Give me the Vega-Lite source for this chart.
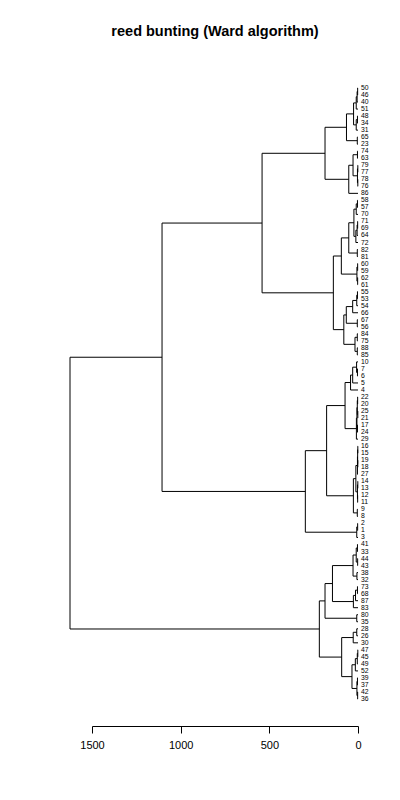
{
  "$schema": "https://vega.github.io/schema/vega-lite/v6.json",
  "width": 266,
  "height": 611,
  "autosize": {"type": "none"},
  "padding": {"left": 92, "top": 88, "right": 42, "bottom": 101},
  "background": "white",
  "title": {"text": "reed bunting (Ward algorithm)", "font": "Liberation Sans", "fontSize": 14.5, "fontWeight": "bold", "color": "black", "anchor": "middle", "dx": -10, "offset": 46},
  "config": {
    "view": {"stroke": null},
    "axis": {"domainColor": "black", "tickColor": "black", "labelColor": "black", "labelFont": "Liberation Sans", "labelFontSize": 11, "tickSize": 7, "grid": false, "labelPadding": 6, "domainWidth": 1, "tickWidth": 1, "labelFlush": false, "labelOverlap": false}
  },
  "datasets": {
    "merges": [
      {"h": 2, "y1": 1, "h1": 0, "y2": 2, "h2": 0},
      {"h": 5, "y1": 1.5, "h1": 2, "y2": 3, "h2": 0},
      {"h": 10, "y1": 2.25, "h1": 5, "y2": 4, "h2": 0},
      {"h": 3, "y1": 5, "h1": 0, "y2": 6, "h2": 0},
      {"h": 10, "y1": 5.5, "h1": 3, "y2": 7, "h2": 0},
      {"h": 25, "y1": 3.125, "h1": 10, "y2": 6.25, "h2": 10},
      {"h": 4, "y1": 8, "h1": 0, "y2": 9, "h2": 0},
      {"h": 65, "y1": 4.6875, "h1": 25, "y2": 8.5, "h2": 4},
      {"h": 3, "y1": 10, "h1": 0, "y2": 11, "h2": 0},
      {"h": 1, "y1": 12, "h1": 0, "y2": 13, "h2": 0},
      {"h": 1, "y1": 14, "h1": 0, "y2": 15, "h2": 0},
      {"h": 3, "y1": 12.5, "h1": 1, "y2": 14.5, "h2": 1},
      {"h": 28, "y1": 10.5, "h1": 3, "y2": 13.5, "h2": 3},
      {"h": 52, "y1": 12, "h1": 28, "y2": 16, "h2": 0},
      {"h": 186, "y1": 6.59375, "h1": 65, "y2": 14, "h2": 52},
      {"h": 3, "y1": 17, "h1": 0, "y2": 18, "h2": 0},
      {"h": 10, "y1": 17.5, "h1": 3, "y2": 19, "h2": 0},
      {"h": 2, "y1": 20, "h1": 0, "y2": 21, "h2": 0},
      {"h": 5, "y1": 20.5, "h1": 2, "y2": 22, "h2": 0},
      {"h": 12, "y1": 21.25, "h1": 5, "y2": 23, "h2": 0},
      {"h": 23, "y1": 18.25, "h1": 10, "y2": 22.125, "h2": 12},
      {"h": 4, "y1": 24, "h1": 0, "y2": 25, "h2": 0},
      {"h": 52, "y1": 20.1875, "h1": 23, "y2": 24.5, "h2": 4},
      {"h": 2, "y1": 26, "h1": 0, "y2": 27, "h2": 0},
      {"h": 2, "y1": 28, "h1": 0, "y2": 29, "h2": 0},
      {"h": 6, "y1": 26.5, "h1": 2, "y2": 28.5, "h2": 2},
      {"h": 94, "y1": 22.34375, "h1": 52, "y2": 27.5, "h2": 6},
      {"h": 3, "y1": 30, "h1": 0, "y2": 31, "h2": 0},
      {"h": 7, "y1": 30.5, "h1": 3, "y2": 32, "h2": 0},
      {"h": 30, "y1": 31.25, "h1": 7, "y2": 33, "h2": 0},
      {"h": 4, "y1": 34, "h1": 0, "y2": 35, "h2": 0},
      {"h": 66, "y1": 32.125, "h1": 30, "y2": 34.5, "h2": 4},
      {"h": 4, "y1": 36, "h1": 0, "y2": 37, "h2": 0},
      {"h": 4, "y1": 38, "h1": 0, "y2": 39, "h2": 0},
      {"h": 17, "y1": 36.5, "h1": 4, "y2": 38.5, "h2": 4},
      {"h": 80, "y1": 33.3125, "h1": 66, "y2": 37.5, "h2": 17},
      {"h": 139, "y1": 24.921875, "h1": 94, "y2": 35.40625, "h2": 80},
      {"h": 541, "y1": 10.296875, "h1": 186, "y2": 30.1640625, "h2": 139},
      {"h": 3, "y1": 41, "h1": 0, "y2": 42, "h2": 0},
      {"h": 8, "y1": 40, "h1": 0, "y2": 41.5, "h2": 3},
      {"h": 30, "y1": 40.75, "h1": 8, "y2": 43, "h2": 0},
      {"h": 42, "y1": 41.875, "h1": 30, "y2": 44, "h2": 0},
      {"h": 2, "y1": 45, "h1": 0, "y2": 46, "h2": 0},
      {"h": 1, "y1": 47, "h1": 0, "y2": 48, "h2": 0},
      {"h": 4, "y1": 45.5, "h1": 2, "y2": 47.5, "h2": 1},
      {"h": 3, "y1": 49, "h1": 0, "y2": 50, "h2": 0},
      {"h": 6, "y1": 46.5, "h1": 4, "y2": 49.5, "h2": 3},
      {"h": 9, "y1": 48, "h1": 6, "y2": 51, "h2": 0},
      {"h": 73, "y1": 42.9375, "h1": 42, "y2": 49.5, "h2": 9},
      {"h": 1, "y1": 52, "h1": 0, "y2": 53, "h2": 0},
      {"h": 1, "y1": 54, "h1": 0, "y2": 55, "h2": 0},
      {"h": 2, "y1": 52.5, "h1": 1, "y2": 54.5, "h2": 1},
      {"h": 3, "y1": 53.5, "h1": 2, "y2": 56, "h2": 0},
      {"h": 1, "y1": 57, "h1": 0, "y2": 58, "h2": 0},
      {"h": 2, "y1": 59, "h1": 0, "y2": 60, "h2": 0},
      {"h": 3, "y1": 57.5, "h1": 1, "y2": 59.5, "h2": 2},
      {"h": 12, "y1": 54.75, "h1": 3, "y2": 58.5, "h2": 3},
      {"h": 4, "y1": 61, "h1": 0, "y2": 62, "h2": 0},
      {"h": 26, "y1": 56.625, "h1": 12, "y2": 61.5, "h2": 4},
      {"h": 177, "y1": 46.21875, "h1": 73, "y2": 59.0625, "h2": 26},
      {"h": 2, "y1": 63, "h1": 0, "y2": 64, "h2": 0},
      {"h": 7, "y1": 63.5, "h1": 2, "y2": 65, "h2": 0},
      {"h": 297, "y1": 52.640625, "h1": 177, "y2": 64.25, "h2": 7},
      {"h": 1105, "y1": 20.23046875, "h1": 541, "y2": 58.4453125, "h2": 297},
      {"h": 3, "y1": 66, "h1": 0, "y2": 67, "h2": 0},
      {"h": 2, "y1": 68, "h1": 0, "y2": 69, "h2": 0},
      {"h": 10, "y1": 66.5, "h1": 3, "y2": 68.5, "h2": 2},
      {"h": 6, "y1": 70, "h1": 0, "y2": 71, "h2": 0},
      {"h": 28, "y1": 67.5, "h1": 10, "y2": 70.5, "h2": 6},
      {"h": 3, "y1": 72, "h1": 0, "y2": 73, "h2": 0},
      {"h": 14, "y1": 72.5, "h1": 3, "y2": 74, "h2": 0},
      {"h": 26, "y1": 73.25, "h1": 14, "y2": 75, "h2": 0},
      {"h": 144, "y1": 69, "h1": 28, "y2": 74.125, "h2": 26},
      {"h": 7, "y1": 76, "h1": 0, "y2": 77, "h2": 0},
      {"h": 186, "y1": 71.5625, "h1": 144, "y2": 76.5, "h2": 7},
      {"h": 7, "y1": 78, "h1": 0, "y2": 79, "h2": 0},
      {"h": 27, "y1": 78.5, "h1": 7, "y2": 80, "h2": 0},
      {"h": 1, "y1": 81, "h1": 0, "y2": 82, "h2": 0},
      {"h": 4, "y1": 81.5, "h1": 1, "y2": 83, "h2": 0},
      {"h": 15, "y1": 82.25, "h1": 4, "y2": 84, "h2": 0},
      {"h": 3, "y1": 85, "h1": 0, "y2": 86, "h2": 0},
      {"h": 2, "y1": 87, "h1": 0, "y2": 88, "h2": 0},
      {"h": 6, "y1": 85.5, "h1": 3, "y2": 87.5, "h2": 2},
      {"h": 34, "y1": 83.125, "h1": 15, "y2": 86.5, "h2": 6},
      {"h": 92, "y1": 79.25, "h1": 27, "y2": 84.8125, "h2": 34},
      {"h": 218, "y1": 74.03125, "h1": 186, "y2": 82.03125, "h2": 92},
      {"h": 1624, "y1": 39.337890625, "h1": 1105, "y2": 78.03125, "h2": 218}
    ],
    "leaves": [
      {"pos": 1, "label": "50"}, {"pos": 2, "label": "46"}, {"pos": 3, "label": "40"}, {"pos": 4, "label": "51"},
      {"pos": 5, "label": "48"}, {"pos": 6, "label": "34"}, {"pos": 7, "label": "31"}, {"pos": 8, "label": "65"},
      {"pos": 9, "label": "23"}, {"pos": 10, "label": "74"}, {"pos": 11, "label": "63"}, {"pos": 12, "label": "79"},
      {"pos": 13, "label": "77"}, {"pos": 14, "label": "78"}, {"pos": 15, "label": "76"}, {"pos": 16, "label": "86"},
      {"pos": 17, "label": "58"}, {"pos": 18, "label": "57"}, {"pos": 19, "label": "70"}, {"pos": 20, "label": "71"},
      {"pos": 21, "label": "69"}, {"pos": 22, "label": "64"}, {"pos": 23, "label": "72"}, {"pos": 24, "label": "82"},
      {"pos": 25, "label": "81"}, {"pos": 26, "label": "60"}, {"pos": 27, "label": "59"}, {"pos": 28, "label": "62"},
      {"pos": 29, "label": "61"}, {"pos": 30, "label": "55"}, {"pos": 31, "label": "53"}, {"pos": 32, "label": "54"},
      {"pos": 33, "label": "66"}, {"pos": 34, "label": "67"}, {"pos": 35, "label": "56"}, {"pos": 36, "label": "84"},
      {"pos": 37, "label": "75"}, {"pos": 38, "label": "88"}, {"pos": 39, "label": "85"}, {"pos": 40, "label": "10"},
      {"pos": 41, "label": "7"}, {"pos": 42, "label": "6"}, {"pos": 43, "label": "5"}, {"pos": 44, "label": "4"},
      {"pos": 45, "label": "22"}, {"pos": 46, "label": "20"}, {"pos": 47, "label": "25"}, {"pos": 48, "label": "21"},
      {"pos": 49, "label": "17"}, {"pos": 50, "label": "24"}, {"pos": 51, "label": "29"}, {"pos": 52, "label": "16"},
      {"pos": 53, "label": "15"}, {"pos": 54, "label": "19"}, {"pos": 55, "label": "18"}, {"pos": 56, "label": "27"},
      {"pos": 57, "label": "14"}, {"pos": 58, "label": "13"}, {"pos": 59, "label": "12"}, {"pos": 60, "label": "11"},
      {"pos": 61, "label": "9"}, {"pos": 62, "label": "8"}, {"pos": 63, "label": "2"}, {"pos": 64, "label": "1"},
      {"pos": 65, "label": "3"}, {"pos": 66, "label": "41"}, {"pos": 67, "label": "33"}, {"pos": 68, "label": "44"},
      {"pos": 69, "label": "43"}, {"pos": 70, "label": "38"}, {"pos": 71, "label": "32"}, {"pos": 72, "label": "73"},
      {"pos": 73, "label": "68"}, {"pos": 74, "label": "87"}, {"pos": 75, "label": "83"}, {"pos": 76, "label": "80"},
      {"pos": 77, "label": "35"}, {"pos": 78, "label": "28"}, {"pos": 79, "label": "26"}, {"pos": 80, "label": "30"},
      {"pos": 81, "label": "47"}, {"pos": 82, "label": "45"}, {"pos": 83, "label": "49"}, {"pos": 84, "label": "52"},
      {"pos": 85, "label": "39"}, {"pos": 86, "label": "37"}, {"pos": 87, "label": "42"}, {"pos": 88, "label": "36"}
    ]
  },
  "layer": [
    {
      "data": {"name": "merges"},
      "mark": {"type": "rule", "color": "black", "strokeWidth": 1},
      "encoding": {
        "x": {"field": "h", "type": "quantitative", "scale": {"domain": [0, 1500], "reverse": true, "nice": false, "zero": false}, "axis": {"title": null, "values": [0, 500, 1000, 1500], "format": "d", "offset": 27}},
        "y": {"field": "y1", "type": "quantitative", "scale": {"domain": [1, 88], "reverse": true, "nice": false, "zero": false}, "axis": null},
        "y2": {"field": "y2"}
      }
    },
    {
      "data": {"name": "merges"},
      "mark": {"type": "rule", "color": "black", "strokeWidth": 1},
      "encoding": {
        "x": {"field": "h1", "type": "quantitative", "scale": {"domain": [0, 1500], "reverse": true, "nice": false, "zero": false}, "axis": {"title": null, "values": [0, 500, 1000, 1500], "format": "d", "offset": 27}},
        "x2": {"field": "h"},
        "y": {"field": "y1", "type": "quantitative", "scale": {"domain": [1, 88], "reverse": true, "nice": false, "zero": false}, "axis": null}
      }
    },
    {
      "data": {"name": "merges"},
      "mark": {"type": "rule", "color": "black", "strokeWidth": 1},
      "encoding": {
        "x": {"field": "h2", "type": "quantitative", "scale": {"domain": [0, 1500], "reverse": true, "nice": false, "zero": false}, "axis": {"title": null, "values": [0, 500, 1000, 1500], "format": "d", "offset": 27}},
        "x2": {"field": "h"},
        "y": {"field": "y2", "type": "quantitative", "scale": {"domain": [1, 88], "reverse": true, "nice": false, "zero": false}, "axis": null}
      }
    },
    {
      "data": {"name": "leaves"},
      "mark": {"type": "text", "align": "left", "baseline": "middle", "dx": 3, "fontSize": 6.8, "font": "Liberation Sans", "fill": "black"},
      "encoding": {
        "x": {"datum": 0, "type": "quantitative", "scale": {"domain": [0, 1500], "reverse": true, "nice": false, "zero": false}, "axis": {"title": null, "values": [0, 500, 1000, 1500], "format": "d", "offset": 27}},
        "y": {"field": "pos", "type": "quantitative", "scale": {"domain": [1, 88], "reverse": true, "nice": false, "zero": false}, "axis": null},
        "text": {"field": "label"},
        "color": {"value": "black"}
      }
    }
  ]
}
